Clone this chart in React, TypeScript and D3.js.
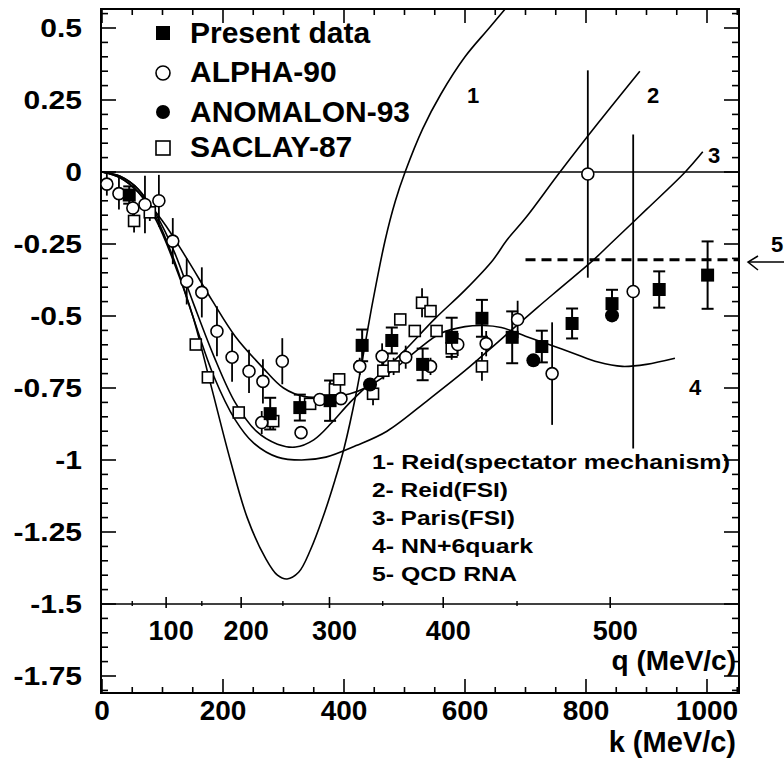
import React from 'react';
import * as d3 from 'd3';

// ---- data (k in MeV/c, value, error) ----
const presentK = [45, 278, 327, 377, 430, 479, 530, 578, 628, 678, 727, 777, 843, 921, 1001];
const presentV = [-0.08, -0.839, -0.818, -0.794, -0.602, -0.585, -0.668, -0.574, -0.508, -0.574, -0.606, -0.526, -0.457, -0.408, -0.358];
const presentE = [0.03, 0.055, 0.045, 0.07, 0.055, 0.045, 0.055, 0.068, 0.064, 0.09, 0.055, 0.052, 0.048, 0.063, 0.117];

const anomalonK = [443, 713, 843];
const anomalonV = [-0.738, -0.654, -0.498];

const alphaK = [8, 28, 51, 71, 94, 117, 140, 165, 190, 215, 243, 266, 264, 298, 329, 360, 395, 426, 463, 502, 543, 588, 635, 687, 744, 803, 878];
const alphaV = [-0.042, -0.075, -0.125, -0.113, -0.1, -0.24, -0.38, -0.418, -0.553, -0.643, -0.692, -0.727, -0.87, -0.657, -0.905, -0.79, -0.787, -0.675, -0.64, -0.643, -0.675, -0.599, -0.596, -0.512, -0.7, -0.007, -0.415];
const alphaE = [0.04, 0.055, 0.03, 0.1, 0.09, 0.08, 0.08, 0.087, 0.087, 0.085, 0.075, 0.077, 0.04, 0.08, 0.02, 0.02, 0.02, 0.03, 0.045, 0.04, 0.03, 0.04, 0.044, 0.065, 0.178, 0.36, 0.545];

const saclayK = [53, 79, 155, 175, 226, 283, 344, 385, 392, 448, 465, 482, 493, 517, 529, 543, 553, 578, 628];
const saclayV = [-0.17, -0.14, -0.599, -0.713, -0.835, -0.865, -0.805, -0.755, -0.72, -0.77, -0.69, -0.675, -0.512, -0.552, -0.454, -0.483, -0.552, -0.612, -0.675];
const saclayE = [0.04, 0.03, 0, 0, 0, 0.03, 0.02, 0.02, 0.02, 0.04, 0.03, 0.03, 0, 0, 0.05, 0, 0, 0.04, 0.05];

// theory curves
const curve1K = [0, 30, 60, 90, 120, 150, 180, 212, 240, 270, 290, 306, 325, 345, 365, 385, 400, 420, 448, 468, 485, 501, 530, 560, 600, 640, 680];
const curve1V = [0, -0.02, -0.07, -0.17, -0.32, -0.5, -0.74, -1.0, -1.2, -1.34, -1.4, -1.413, -1.39, -1.31, -1.2, -1.07, -0.96, -0.77, -0.445, -0.237, -0.1, 0, 0.15, 0.27, 0.4, 0.5, 0.6];
const curve2K = [0, 30, 60, 90, 120, 150, 185, 220, 255, 290, 320, 350, 380, 410, 450, 500, 550, 600, 646, 669, 700, 757, 820, 889];
const curve2V = [0, -0.015, -0.06, -0.15, -0.28, -0.45, -0.64, -0.8, -0.9, -0.945, -0.955, -0.93, -0.87, -0.8, -0.72, -0.62, -0.51, -0.41, -0.306, -0.237, -0.16, 0, 0.17, 0.35];
const curve3K = [0, 30, 60, 90, 120, 150, 185, 220, 250, 290, 330, 370, 420, 471, 540, 600, 660, 720, 757, 812, 840, 900, 964, 993];
const curve3V = [0, -0.015, -0.06, -0.16, -0.31, -0.5, -0.71, -0.86, -0.94, -0.99, -1.0, -0.99, -0.95, -0.9, -0.79, -0.69, -0.58, -0.47, -0.404, -0.306, -0.25, -0.13, 0, 0.07];
const curve4K = [0, 30, 60, 100, 140, 182, 220, 266, 300, 335, 370, 410, 440, 480, 520, 560, 600, 630, 660, 700, 740, 780, 820, 860, 900, 947];
const curve4V = [0, -0.02, -0.07, -0.17, -0.3, -0.446, -0.57, -0.68, -0.75, -0.78, -0.78, -0.77, -0.745, -0.69, -0.62, -0.56, -0.537, -0.533, -0.54, -0.57, -0.6, -0.63, -0.66, -0.675, -0.668, -0.647];
const qcdK = [700, 1060];
const qcdV = [-0.305, -0.305];

// axis ticks
const yTickValues = [0.5, 0.25, 0, -0.25, -0.5, -0.75, -1, -1.25, -1.5, -1.75];
const yTickLabels = ['0.5', '0.25', '0', '-0.25', '-0.5', '-0.75', '-1', '-1.25', '-1.5', '-1.75'];
const kTickValues = [0, 200, 400, 600, 800, 1000];
const kTickLabels = ['0', '200', '400', '600', '800', '1000'];
const qTickLabels = ['100', '200', '300', '400', '500'];
const qTickK = [106, 230, 376, 564, 840];
const qMinorK = [50, 165, 299, 464, 686];

const topLegend = ['Present data', 'ALPHA-90', 'ANOMALON-93', 'SACLAY-87'];
const curveLegend = ['1- Reid(spectator mechanism)', '2- Reid(FSI)', '3- Paris(FSI)', '4- NN+6quark', '5- QCD RNA'];
const curveLegendWidths = [358, 136, 143, 161, 145];

export default function App() {
  const x = d3.scaleLinear().domain([0, 1000]).range([102, 707]);
  const y = d3.scaleLinear().domain([0, -1.5]).range([172, 604]);
  const L = 101, R = 739, T = 9, B = 693;
  const font = 'Liberation Sans, Arial, Helvetica, sans-serif';

  const line = d3.line<[number, number]>()
    .x(d => x(d[0]))
    .y(d => y(d[1]))
    .curve(d3.curveCatmullRom.alpha(0.5));

  const curves = [
    curve1K.map((k, i) => [k, curve1V[i]] as [number, number]),
    curve2K.map((k, i) => [k, curve2V[i]] as [number, number]),
    curve3K.map((k, i) => [k, curve3V[i]] as [number, number]),
    curve4K.map((k, i) => [k, curve4V[i]] as [number, number]),
  ];

  const yMinor = d3.range(-1.8, 0.56, 0.05).map(v => Math.round(v * 100) / 100);
  const kMinor = d3.range(0, 1051, 50);

  const ticks: JSX.Element[] = [];
  yMinor.forEach((v, i) => {
    const major = yTickValues.some(t => Math.abs(t - v) < 1e-6);
    const len = major ? 15 : 7;
    const yy = y(v);
    if (yy < T || yy > B) return;
    ticks.push(<line key={'yl' + i} x1={L} x2={L + len} y1={yy} y2={yy} stroke="#000" strokeWidth={1.6} />);
    ticks.push(<line key={'yr' + i} x1={R - len} x2={R} y1={yy} y2={yy} stroke="#000" strokeWidth={1.6} />);
  });
  kMinor.forEach((k, i) => {
    const major = k % 200 === 0;
    const len = major ? 14 : 6;
    const xx = x(k);
    if (xx < L || xx > R) return;
    ticks.push(<line key={'kb' + i} x1={xx} x2={xx} y1={B} y2={B - len} stroke="#000" strokeWidth={1.6} />);
    ticks.push(<line key={'kt' + i} x1={xx} x2={xx} y1={T} y2={T + len} stroke="#000" strokeWidth={1.6} />);
  });

  return (
    <svg width={784} height={765} style={{ position: 'absolute', left: 0, top: 0, background: '#fff' }}>
      <defs>
        <clipPath id="plotclip"><rect x={L} y={T} width={R - L} height={B - T} /></clipPath>
      </defs>
      <rect x={0} y={0} width={784} height={765} fill="#fff" />
      {/* frame */}
      <rect x={L} y={T} width={R - L} height={B - T} fill="none" stroke="#000" strokeWidth={2} />
      {ticks}
      {/* zero line and q axis line */}
      <line x1={L} x2={R} y1={y(0)} y2={y(0)} stroke="#000" strokeWidth={1.6} />
      <line x1={L} x2={R} y1={y(-1.5)} y2={y(-1.5)} stroke="#000" strokeWidth={1.6} />
      {qTickK.map((k, i) => (
        <line key={'qt' + i} x1={x(k)} x2={x(k)} y1={y(-1.5) - 7} y2={y(-1.5) + 4} stroke="#000" strokeWidth={1.6} />
      ))}
      {qMinorK.map((k, i) => (
        <line key={'qm' + i} x1={x(k)} x2={x(k)} y1={y(-1.5) - 3} y2={y(-1.5) + 2} stroke="#000" strokeWidth={1.4} />
      ))}
      {/* y labels (horizontally widened like the original typeface) */}
      {yTickValues.map((v, i) => (
        <g key={'ylab' + i} transform={`translate(82,${y(v) + 9}) scale(1.2,1)`}>
          <text x={0} y={0} textAnchor="end" fontFamily={font} fontWeight="bold" fontSize={25}>{yTickLabels[i]}</text>
        </g>
      ))}
      {kTickValues.map((k, i) => (
        <text key={'klab' + i} x={x(k)} y={720} textAnchor="middle" fontFamily={font} fontWeight="bold" fontSize={28}>{kTickLabels[i]}</text>
      ))}
      {qTickK.map((k, i) => (
        <text key={'qlab' + i} x={x(k) + 5} y={640} textAnchor="middle" fontFamily={font} fontWeight="bold" fontSize={27}>{qTickLabels[i]}</text>
      ))}
      <text x={736} y={670} textAnchor="end" fontFamily={font} fontWeight="bold" fontSize={28}>q (MeV/c)</text>
      <text x={736} y={752} textAnchor="end" fontFamily={font} fontWeight="bold" fontSize={29}>k (MeV/c)</text>

      {/* curves */}
      <g clipPath="url(#plotclip)">
        {curves.map((c, i) => (
          <path key={'c' + i} d={line(c) || ''} fill="none" stroke="#000" strokeWidth={1.6} />
        ))}
        <line x1={x(qcdK[0])} x2={x(qcdK[1])} y1={y(qcdV[0])} y2={y(qcdV[1])} stroke="#000" strokeWidth={3} strokeDasharray="10 6" />
      </g>

      {/* error bars */}
      {saclayK.map((k, i) => saclayE[i] > 0 ? (
        <line key={'se' + i} x1={x(k)} x2={x(k)} y1={y(saclayV[i] + saclayE[i])} y2={y(saclayV[i] - saclayE[i])} stroke="#000" strokeWidth={1.8} />
      ) : null)}
      {alphaK.map((k, i) => (
        <line key={'ae' + i} x1={x(k)} x2={x(k)} y1={y(alphaV[i] + alphaE[i])} y2={y(alphaV[i] - alphaE[i])} stroke="#000" strokeWidth={1.8} />
      ))}
      {presentK.map((k, i) => {
        const y1 = y(presentV[i] + presentE[i]);
        const y2 = y(presentV[i] - presentE[i]);
        const xx = x(k);
        return (
          <g key={'pe' + i}>
            <line x1={xx} x2={xx} y1={y1} y2={y2} stroke="#000" strokeWidth={2} />
            <line x1={xx - 6} x2={xx + 6} y1={y1} y2={y1} stroke="#000" strokeWidth={2} />
            <line x1={xx - 6} x2={xx + 6} y1={y2} y2={y2} stroke="#000" strokeWidth={2} />
          </g>
        );
      })}

      {/* markers */}
      {saclayK.map((k, i) => (
        <rect key={'sm' + i} x={x(k) - 5.5} y={y(saclayV[i]) - 5.5} width={11} height={11} fill="#fff" stroke="#000" strokeWidth={1.6} />
      ))}
      {alphaK.map((k, i) => (
        <circle key={'am' + i} cx={x(k)} cy={y(alphaV[i])} r={6} fill="#fff" stroke="#000" strokeWidth={1.6} />
      ))}
      {anomalonK.map((k, i) => (
        <circle key={'nm' + i} cx={x(k)} cy={y(anomalonV[i])} r={7} fill="#000" />
      ))}
      {presentK.map((k, i) => (
        <rect key={'pm' + i} x={x(k) - 6.5} y={y(presentV[i]) - 6.5} width={13} height={13} fill="#000" />
      ))}

      {/* top legend */}
      <rect x={156} y={26} width={14} height={14} fill="#000" />
      <circle cx={163} cy={73} r={7} fill="#fff" stroke="#000" strokeWidth={1.6} />
      <circle cx={163} cy={112} r={7} fill="#000" />
      <rect x={156} y={141} width={14} height={14} fill="#fff" stroke="#000" strokeWidth={1.6} />
      {topLegend.map((t, i) => (
        <text key={'tl' + i} x={190} y={[43, 82, 122, 157][i]} fontFamily={font} fontWeight="bold" fontSize={30}>{t}</text>
      ))}

      {/* curve legend */}
      {curveLegend.map((t, i) => (
        <text key={'cl' + i} x={372} y={469 + i * 28} fontFamily={font} fontWeight="bold" fontSize={20}
          textLength={curveLegendWidths[i]} lengthAdjust="spacingAndGlyphs">{t}</text>
      ))}

      {/* curve labels */}
      <text x={473} y={103} textAnchor="middle" fontFamily={font} fontWeight="bold" fontSize={22}>1</text>
      <text x={653} y={103} textAnchor="middle" fontFamily={font} fontWeight="bold" fontSize={22}>2</text>
      <text x={714} y={163} textAnchor="middle" fontFamily={font} fontWeight="bold" fontSize={22}>3</text>
      <text x={695} y={395} textAnchor="middle" fontFamily={font} fontWeight="bold" fontSize={22}>4</text>
      <text x={777} y={252} textAnchor="middle" fontFamily={font} fontWeight="bold" fontSize={22}>5</text>
      {/* arrow for 5 */}
      <line x1={748} x2={784} y1={262} y2={262} stroke="#000" strokeWidth={1.5} />
      <polyline points="758,256 748,262 758,270" fill="none" stroke="#000" strokeWidth={1.5} />
    </svg>
  );
}
